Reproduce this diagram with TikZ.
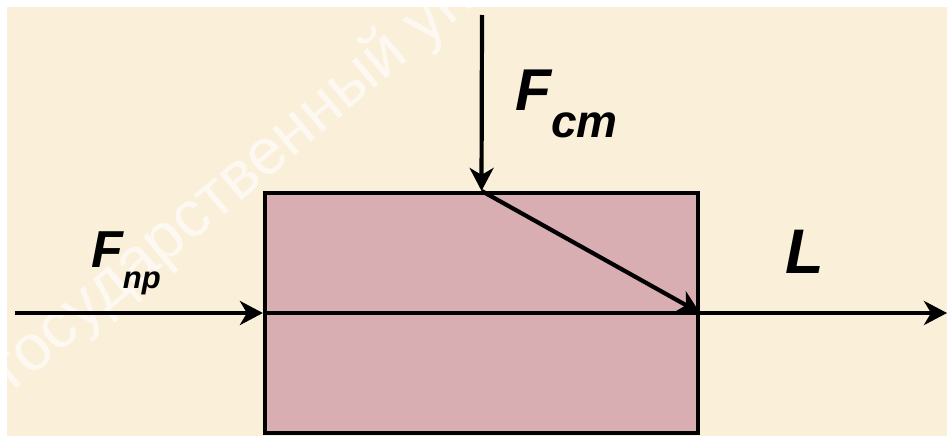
\documentclass[tikz,border=0pt]{standalone}
\usepackage{fontspec}
\setmainfont{Liberation Sans}
\usetikzlibrary{arrows.meta}
\definecolor{cream}{RGB}{250,240,218}
\definecolor{boxpink}{RGB}{217,174,178}
\begin{document}
\begin{tikzpicture}[x=1pt,y=-1pt,
  vec/.style={line width=4.2pt, -{Stealth[length=23pt,width=24pt,inset=7pt]}},
  lbl/.style={inner sep=0pt, anchor=base west, font=\bfseries\itshape}]
\useasboundingbox (0,0) rectangle (947,439);
\clip (0,0) rectangle (947,439);
\fill[white] (0,0) rectangle (947,439);
\fill[cream] (7,7) rectangle (947,436);
% watermark
\node[rotate=40, anchor=base west, inner sep=0pt, text=white, opacity=0.65,
      font=\fontsize{65}{65}\selectfont] (wm) at (13,392) {государственный ун};
% body
\node[draw, line width=4.2pt, fill=boxpink, minimum width=433pt, minimum height=240pt,
      inner sep=0pt] (box) at (481.5,313) {};
\coordinate (inL) at (15,313);
\coordinate (outR) at (947,313);
\coordinate (topF) at (482,15);
\draw[vec] (inL) -- (box.west);
\draw[line width=4.2pt] (box.west) -- (box.east);
\draw[vec] (box.east) -- (outR);
\draw[vec] (topF) -- (box.north);
\draw[vec] (box.north) -- (box.east);
% labels
\node[lbl, font=\bfseries\itshape\fontsize{52}{52}\selectfont] (fnp) at (91,267)
  {F\raisebox{-21pt}{\fontsize{31}{31}\selectfont np}};
\node[lbl, font=\bfseries\itshape\fontsize{59}{59}\selectfont] (fcm) at (515,110)
  {F\raisebox{-27pt}{\fontsize{46}{46}\selectfont cm}};
\node[lbl, font=\bfseries\itshape\fontsize{63}{63}\selectfont] (lL) at (785,273) {L};
\end{tikzpicture}
\end{document}
